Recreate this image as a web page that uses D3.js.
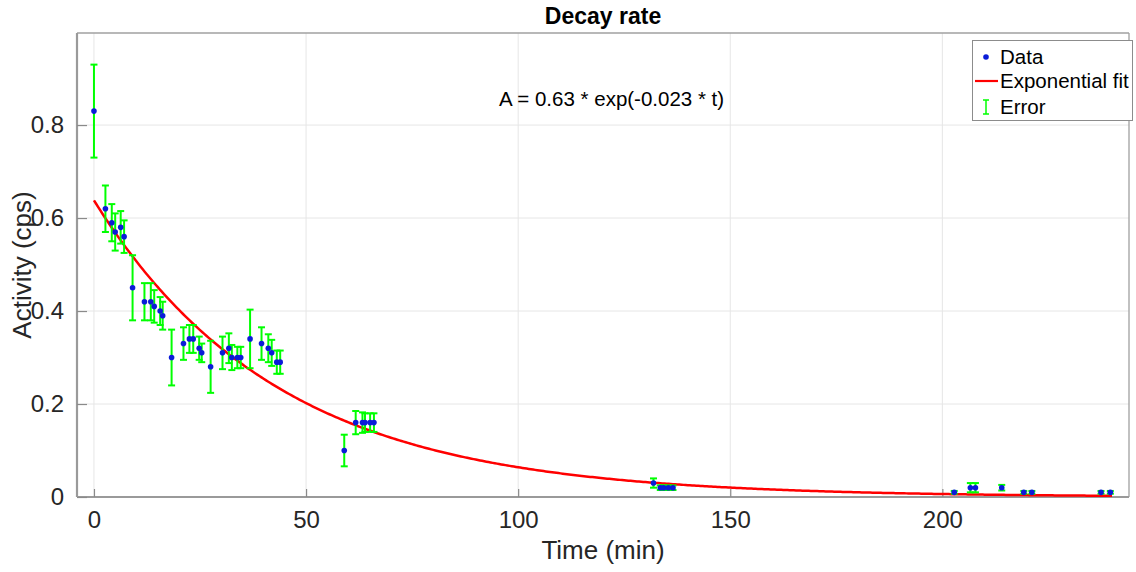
<!DOCTYPE html>
<html><head><meta charset="utf-8">
<script src="https://cdn.jsdelivr.net/npm/d3@7"></script>
<style>
body{margin:0;background:#fff;}
svg{display:block;font-family:"Liberation Sans",Arial,Helvetica,sans-serif;}
</style></head>
<body><svg id="c" width="1136" height="572"></svg>
<script>
const timeMin = [0,2.7,4.2,5.0,6.3,7.1,9.1,11.9,13.4,14.2,15.6,16.2,18.3,21.1,22.5,23.4,24.8,25.4,27.5,30.3,31.8,32.5,33.8,34.6,36.8,39.5,41.1,41.9,43.1,43.9,59.0,61.7,63.3,63.9,65.1,66.0,131.9,133.5,134.3,135.4,136.5,202.8,206.6,207.8,214.0,219.2,221.1,237.4,239.6];
const activity = [0.83,0.62,0.59,0.57,0.58,0.56,0.45,0.42,0.42,0.41,0.40,0.39,0.30,0.33,0.34,0.34,0.32,0.31,0.28,0.31,0.32,0.30,0.30,0.30,0.34,0.33,0.32,0.31,0.29,0.29,0.10,0.16,0.16,0.16,0.16,0.16,0.03,0.02,0.02,0.02,0.02,0.01,0.02,0.02,0.02,0.01,0.01,0.01,0.01];
const errors = [0.10,0.05,0.04,0.04,0.035,0.035,0.07,0.04,0.04,0.035,0.03,0.03,0.06,0.035,0.03,0.03,0.025,0.02,0.056,0.035,0.032,0.027,0.023,0.023,0.063,0.035,0.03,0.028,0.025,0.025,0.034,0.025,0.022,0.02,0.02,0.02,0.01,0.005,0.005,0.005,0.005,0.003,0.01,0.01,0.006,0.003,0.003,0.003,0.003];
const fitAmp = 0.638, fitRate = 0.023;
const xTicks = [0,50,100,150,200];
const yTicks = [0,0.2,0.4,0.6,0.8];
const legendLabels = ["Data","Exponential fit","Error"];
const titleText = "Decay rate";
const xLabel = "Time (min)", yLabel = "Activity (cps)";
const annotation = "A = 0.63 * exp(-0.023 * t)";

const data = timeMin.map((t,i)=>({t, a:activity[i], e:errors[i]}));
const L=77,R=1129,T=33,B=497;
const svg = d3.select("#c");
const x = d3.scaleLinear().domain([-4,244]).range([L,R]);
const y = d3.scaleLinear().domain([0,0.998]).range([B,T]);

// grid
const g = svg.append("g");
g.selectAll(".gx").data(xTicks).join("line").attr("x1",d=>x(d)).attr("x2",d=>x(d)).attr("y1",T).attr("y2",B).attr("stroke","#e6e6e6").attr("stroke-width",1);
g.selectAll(".gy").data(yTicks).join("line").attr("y1",d=>y(d)).attr("y2",d=>y(d)).attr("x1",L).attr("x2",R).attr("stroke","#e6e6e6").attr("stroke-width",1);

// box top/right
svg.append("line").attr("x1",L).attr("x2",R).attr("y1",T).attr("y2",T).attr("stroke","#a0a0a0").attr("stroke-width",1.3);
svg.append("line").attr("x1",R).attr("x2",R).attr("y1",T).attr("y2",B).attr("stroke","#a0a0a0").attr("stroke-width",1.3);

// axes
const xAxis = d3.axisBottom(x).tickValues(xTicks).tickSizeInner(-8).tickSizeOuter(0).tickPadding(14).tickFormat(d3.format("d"));
const yAxis = d3.axisLeft(y).tickValues(yTicks).tickSizeInner(-10).tickSizeOuter(0).tickPadding(13).tickFormat(d=>d===0?"0":d3.format(".1f")(d));
const gx = svg.append("g").attr("transform",`translate(0,${B})`).call(xAxis);
const gy = svg.append("g").attr("transform",`translate(${L},0)`).call(yAxis);
[gx,gy].forEach(a=>{
  a.select(".domain").attr("stroke","#9a9a9a").attr("stroke-width",2.2);
  a.selectAll(".tick line").attr("stroke","#8a8a8a").attr("stroke-width",1.2);
  a.selectAll(".tick text").attr("fill","#262626").style("font-size","24px").style("font-family","'Liberation Sans',Arial,sans-serif");
});
gx.select(".domain").attr("d",`M${L},0H${R}`);
gy.select(".domain").attr("d",`M0,${B}V${T}`);

// fit curve
const tFit = d3.range(0,240.01,0.5);
const line = d3.line().x(d=>x(d)).y(d=>y(fitAmp*Math.exp(-fitRate*d)));
svg.append("path").datum(tFit).attr("d",line).attr("fill","none").attr("stroke","#ff0000").attr("stroke-width",2.5);

// error bars
const eb = svg.append("g").attr("stroke","#00ff00").attr("stroke-width",2);
eb.selectAll(".v").data(data).join("line").attr("x1",d=>x(d.t)).attr("x2",d=>x(d.t)).attr("y1",d=>y(d.a+d.e)).attr("y2",d=>y(Math.max(0,d.a-d.e)));
eb.selectAll(".c1").data(data).join("line").attr("x1",d=>x(d.t)-3.5).attr("x2",d=>x(d.t)+3.5).attr("y1",d=>y(d.a+d.e)).attr("y2",d=>y(d.a+d.e));
eb.selectAll(".c2").data(data).join("line").attr("x1",d=>x(d.t)-3.5).attr("x2",d=>x(d.t)+3.5).attr("y1",d=>y(Math.max(0,d.a-d.e))).attr("y2",d=>y(Math.max(0,d.a-d.e)));

// points
svg.append("g").selectAll("circle").data(data).join("circle").attr("cx",d=>x(d.t)).attr("cy",d=>y(d.a)).attr("r",2.8).attr("fill","#0a1cd8");

// title and labels
svg.append("text").attr("x",(L+R)/2).attr("y",24).attr("text-anchor","middle").attr("font-weight","bold").style("font-size","23px").attr("fill","#000").text(titleText);
svg.append("text").attr("x",(L+R)/2).attr("y",559).attr("text-anchor","middle").style("font-size","26px").attr("fill","#262626").text(xLabel);
svg.append("text").attr("transform",`translate(31,${(T+B)/2}) rotate(-90)`).attr("text-anchor","middle").style("font-size","26px").attr("fill","#262626").text(yLabel);
svg.append("text").attr("x",x(95.5)).attr("y",106).style("font-size","20.5px").attr("fill","#000").text(annotation);

// legend
const lg = svg.append("g");
lg.append("rect").attr("x",972.5).attr("y",40.5).attr("width",160).attr("height",80).attr("fill","#fff").attr("stroke","#8c8c8c").attr("stroke-width",1);
const ly = [57,81,107];
lg.selectAll("text").data(legendLabels).join("text").attr("x",1000).attr("y",(d,i)=>ly[i]+7).style("font-size","20.5px").attr("fill","#000").text(d=>d);
lg.append("circle").attr("cx",986).attr("cy",ly[0]).attr("r",2.8).attr("fill","#0a1cd8");
lg.append("line").attr("x1",975).attr("x2",998).attr("y1",ly[1]).attr("y2",ly[1]).attr("stroke","#ff0000").attr("stroke-width",2.2);
lg.append("line").attr("x1",986).attr("x2",986).attr("y1",ly[2]-7).attr("y2",ly[2]+7).attr("stroke","#00ff00").attr("stroke-width",1.5);
lg.append("line").attr("x1",983).attr("x2",989).attr("y1",ly[2]-7).attr("y2",ly[2]-7).attr("stroke","#00ff00").attr("stroke-width",1.5);
lg.append("line").attr("x1",983).attr("x2",989).attr("y1",ly[2]+7).attr("y2",ly[2]+7).attr("stroke","#00ff00").attr("stroke-width",1.5);
</script></body></html>
